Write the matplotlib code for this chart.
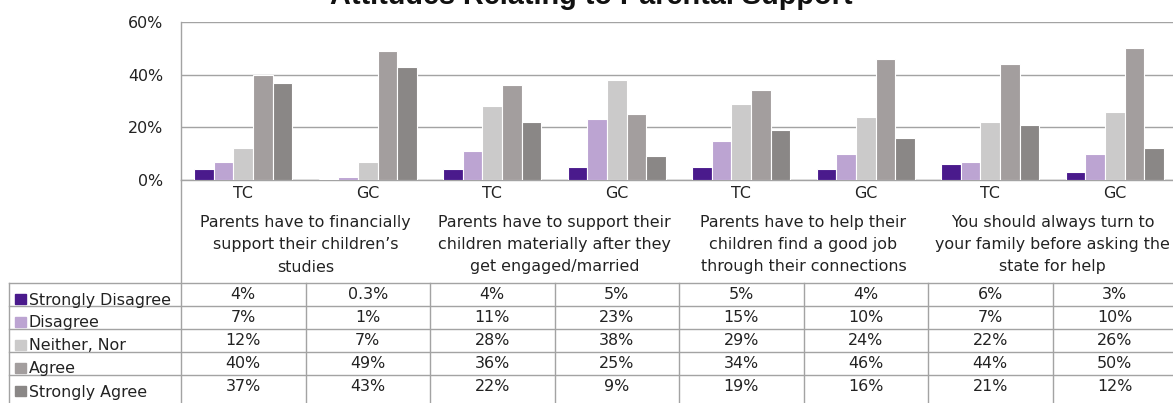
import matplotlib.pyplot as plt
import matplotlib.transforms as mtransforms
from matplotlib.patches import Rectangle

# Survey answers, in percent, per question and group
groups = ["TC", "GC", "TC", "GC", "TC", "GC", "TC", "GC"]
questions = [
    "Parents have to financially\nsupport their children\u2019s\nstudies",
    "Parents have to support their\nchildren materially after they\nget engaged/married",
    "Parents have to help their\nchildren find a good job\nthrough their connections",
    "You should always turn to\nyour family before asking the\nstate for help",
]
answers = ["Strongly Disagree", "Disagree", "Neither, Nor", "Agree", "Strongly Agree"]
strongly_disagree = [4, 0.3, 4, 5, 5, 4, 6, 3]
disagree = [7, 1, 11, 23, 15, 10, 7, 10]
neither_nor = [12, 7, 28, 38, 29, 24, 22, 26]
agree = [40, 49, 36, 25, 34, 46, 44, 50]
strongly_agree = [37, 43, 22, 9, 19, 16, 21, 12]
series = [strongly_disagree, disagree, neither_nor, agree, strongly_agree]
colors = ["#4a1a8c", "#bca4d2", "#cbcaca", "#a39e9e", "#8a8786"]

W, H = 1173, 403
fig = plt.figure(figsize=(W / 100, H / 100), dpi=100)
plt.rcParams["font.family"] = ["DejaVu Sans"]
txt = "#222222"
line_c = "#a3a3a3"
fs = 11.4

# bar chart area
ax = fig.add_axes([181 / W, (H - 180) / H, 996 / W, 158 / H])
bw = 0.157
for i, (vals, c) in enumerate(zip(series, colors)):
    xs = [k + 0.5 + (i - 2) * bw for k in range(len(groups))]
    ax.bar(xs, vals, width=bw, color=c, edgecolor="white", linewidth=0.8, zorder=3)

ax.set_xlim(0, len(groups))
ax.set_ylim(0, 60)
ax.set_yticks([0, 20, 40, 60])
ax.set_yticklabels(["0%", "20%", "40%", "60%"])
ax.set_xticks([])
ax.tick_params(axis="y", length=0, pad=13, labelsize=fs, labelcolor=txt)
ax.grid(axis="y", color=line_c, linewidth=1.0, zorder=0)
for s in ["top", "right"]:
    ax.spines[s].set_visible(False)
for s in ["left", "bottom"]:
    ax.spines[s].set_color(line_c)
    ax.spines[s].set_linewidth(1.0)

# overlay in pixel coordinates for labels and the data table
ov = fig.add_axes([0, 0, 1, 1])
ov.set_xlim(0, W)
ov.set_ylim(H, 0)
ov.axis("off")
ov.patch.set_visible(False)
blend = mtransforms.blended_transform_factory(ax.transData, ov.transData)

ov.text(591, 4, "Attitudes Relating to Parental Support", ha="center", va="baseline",
        fontsize=20.8, fontweight="bold", family="Liberation Sans", color="#111111")

for k, g in enumerate(groups):
    ov.text(k + 0.5, 193, g, transform=blend, ha="center", va="center",
            fontsize=fs, color=txt)

for q, text in enumerate(questions):
    for j, ln in enumerate(text.split("\n")):
        ov.text(2 * q + 1, 223 + 22 * j, ln, transform=blend, ha="center",
                va="center", fontsize=fs, color=txt)

# data table
top, rh = 283, 23
ov.plot([0, 0], [180, H], transform=blend, color=line_c, lw=1.0)
ov.plot([9, 9], [top, H], color=line_c, lw=1.0)
for k in range(1, len(groups) + 1):
    ov.plot([k, k], [top, H], transform=blend, color=line_c, lw=1.0)
for r in range(len(answers)):
    ov.plot([9, W], [top + r * rh] * 2, color=line_c, lw=1.0)

for r, (name, vals, c) in enumerate(zip(answers, series, colors)):
    y0 = top + r * rh
    ov.add_patch(Rectangle((15, y0 + 11), 11, 10, color=c))
    ov.text(29, y0 + rh - 1.5, name, ha="left", va="baseline", fontsize=fs, color=txt)
    for k, v in enumerate(vals):
        ov.text(k + 0.5, y0 + rh / 2, f"{v:g}%", transform=blend, ha="center",
                va="center", fontsize=fs, color=txt)

fig.savefig("out.png", dpi=100)
